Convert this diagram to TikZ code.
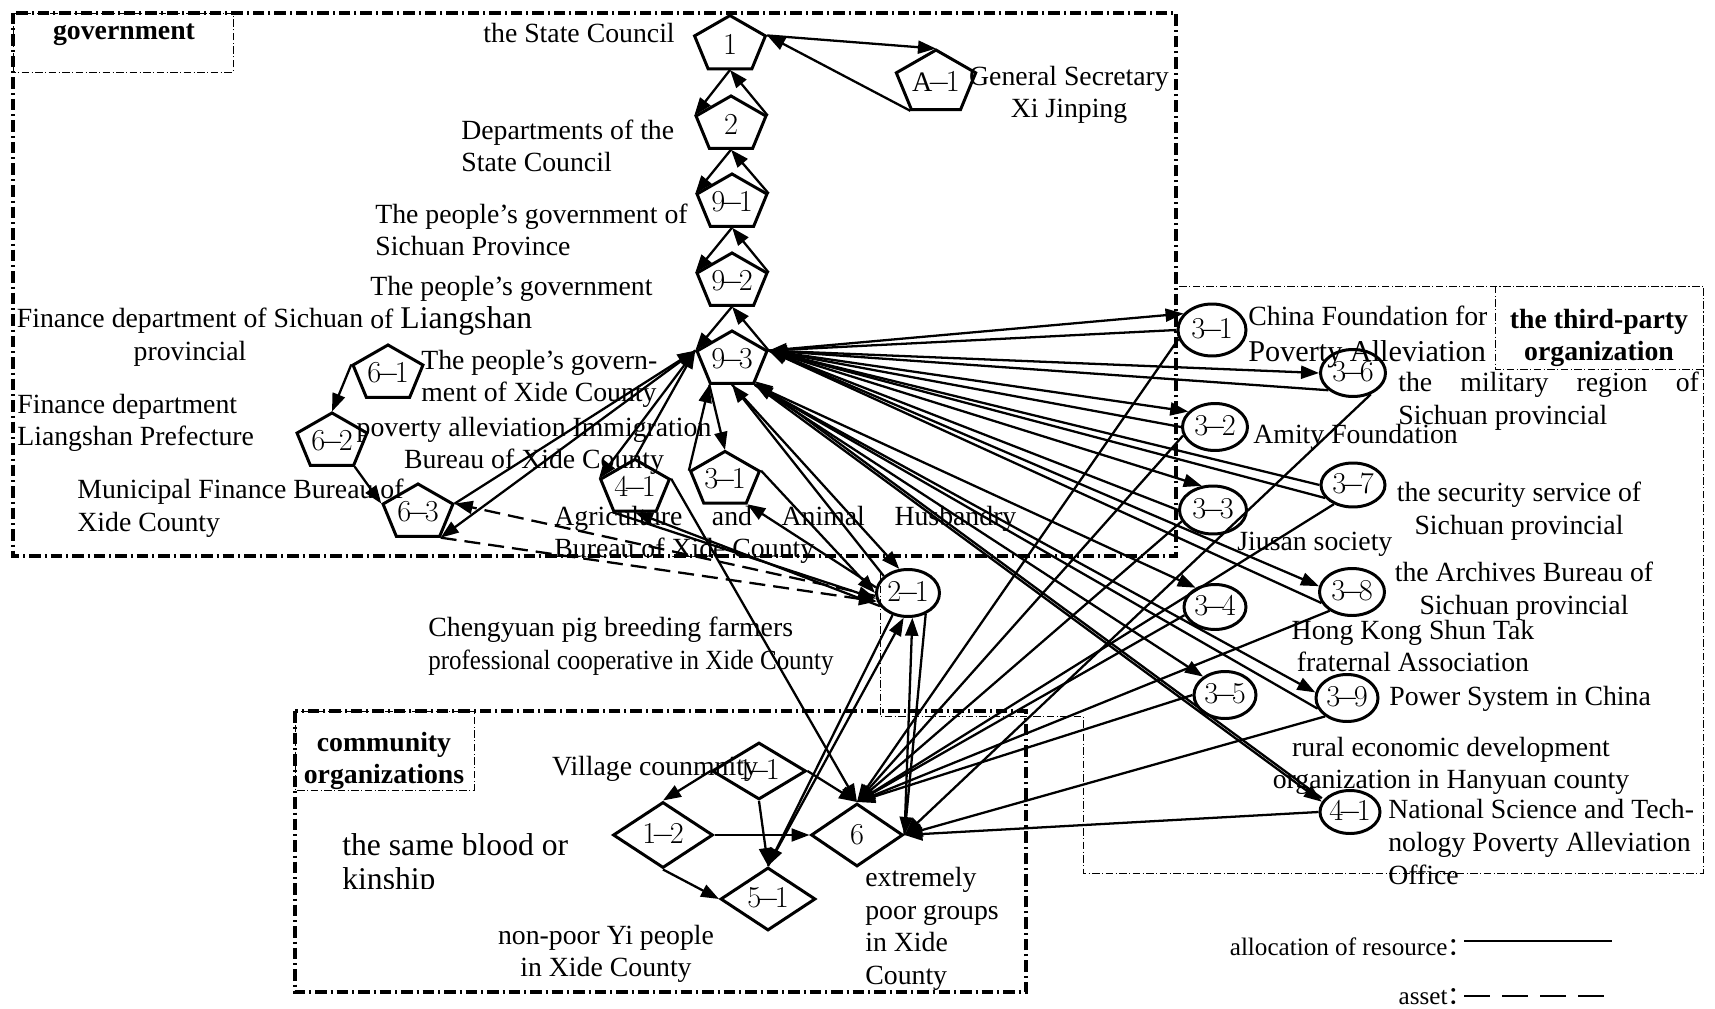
\documentclass[tikz,border=0pt]{standalone}
\usepackage{fontspec}
\setmainfont{Liberation Serif}
\newfontfamily\cjk{Noto Sans CJK SC}
\usepackage{graphicx}
\usetikzlibrary{shapes.geometric,arrows.meta}

\newcommand\mi{\!{-}\!}
\newcommand\nid[1]{{\fontsize{16}{16}\selectfont$#1$}}
\newcommand\pid[1]{\scalebox{1}[1.27]{\nid{#1}}}

\begin{document}
\begin{tikzpicture}[x=0.2mm,y=-0.2mm,
    every node/.style={inner sep=0pt,font=\fontsize{15.8}{18.6}\selectfont},
    head/.style={font=\fontsize{15.8}{18.6}\selectfont\bfseries,align=center},
    pent/.style={draw,line width=1.7pt,regular polygon,regular polygon sides=5,minimum size=14.7mm,yscale=0.79},
    oval/.style={draw,line width=1.7pt,ellipse,minimum width=13mm,minimum height=9.4mm},
    rhomb/.style={draw,line width=1.7pt,diamond,aspect=1.6,minimum width=19mm,minimum height=12.8mm},
    flow/.style={line width=1.3pt,-{Triangle[length=3.6mm,width=2.6mm]}},
    asset/.style={flow,dash pattern=on 3.2mm off 1.6mm},
    outer/.style={line width=1.8pt,dash pattern=on 2.3mm off 0.8mm on 0.4mm off 0.8mm},
    inner/.style={line width=0.5pt,dash pattern=on 1.5mm off 0.5mm on 0.2mm off 0.5mm},
    key/.style={anchor=east,font=\fontsize{14.3}{17}\selectfont}]
\useasboundingbox (0,0) rectangle (1715,1009);

\draw[outer] (13,13) rectangle (1176,556);
\draw[inner] (13,13) rectangle (233,72);
\draw[outer] (295,711) rectangle (1026,992);
\draw[inner] (295,711) rectangle (474,790);
\draw[inner] (880,572) -- (880,716) -- (1083,716) -- (1083,873) -- (1703,873) -- (1703,286) -- (1177,286);
\draw[inner] (1495,286) rectangle (1703,369);

\node[head] (hGov) at (124,35) {government};
\node[head] (hThird) at (1599,338) {the third-party\\organization};
\node[head] (hComm) at (384,761) {community\\organizations};

\node[pent,minimum size=14.9mm] (n1) at (730,45) {\pid{1}};
\node[pent,minimum size=13.5mm] (nA1) at (936,83) {\pid{\mathrm{A}\mi1}};
\node[pent] (n2) at (731,125) {\pid{2}};
\node[pent] (n91) at (732,203) {\pid{9\mi1}};
\node[pent] (n92) at (732,282) {\pid{9\mi2}};
\node[pent] (n93) at (732,360) {\pid{9\mi3}};
\node[pent] (n61) at (388,374) {\pid{6\mi1}};
\node[pent] (n62) at (332,442) {\pid{6\mi2}};
\node[pent] (n63) at (418,513) {\pid{6\mi3}};
\node[pent,minimum size=12.6mm] (n41) at (635,488) {\pid{4\mi1}};
\node[pent,minimum size=13.7mm] (n31) at (725,480) {\pid{3\mi1}};

\node[oval,minimum width=12.6mm] (n21) at (908,593) {\nid{2\mi1}};
\node[oval,minimum width=13.6mm,minimum height=10.4mm] (t31) at (1212,330) {\nid{3\mi1}};
\node[oval] (t36) at (1353,373) {\nid{3\mi6}};
\node[oval] (t32) at (1215,427) {\nid{3\mi2}};
\node[oval,minimum width=12.8mm,minimum height=8.8mm] (t37) at (1353,485) {\nid{3\mi7}};
\node[oval,minimum width=13.4mm,minimum height=9.6mm] (t33) at (1213,510) {\nid{3\mi3}};
\node[oval] (t38) at (1352,592) {\nid{3\mi8}};
\node[oval,minimum width=12.4mm,minimum height=9mm] (t34) at (1215,607) {\nid{3\mi4}};
\node[oval,minimum width=12.4mm] (t35) at (1225,695) {\nid{3\mi5}};
\node[oval,minimum width=12.4mm] (t39) at (1347,698) {\nid{3\mi9}};
\node[oval,minimum width=12mm,minimum height=8.6mm] (t41) at (1350,812) {\nid{4\mi1}};

\node[rhomb,minimum width=18.8mm,minimum height=11.4mm] (c11) at (759,771) {\nid{1\mi1}};
\node[rhomb,minimum width=20mm,minimum height=13.2mm] (c12) at (663,835) {\nid{1\mi2}};
\node[rhomb,minimum width=18.4mm,minimum height=12.6mm] (c6) at (857,835) {\nid{6}};
\node[rhomb,minimum height=12.6mm] (c51) at (768,899) {\nid{5\mi1}};

\node[anchor=east] (lCouncil) at (675,33) {the State Council};
\node[align=center] (lXi) at (1069,95) {General Secretary\\Xi Jinping};
\node[anchor=west,align=left] (lDept) at (461,146) {Departments of the\\State Council};
\node[anchor=west,align=left] (lSichuan) at (375,230) {The people’s government of\\Sichuan Province};
\node[anchor=west,align=left] (lLiang) at (370,306) {The people’s government\\of {\fontsize{18}{18}\selectfont Liangshan}};
\node[align=center] (lFinSc) at (190,337) {Finance department of Sichuan\\provincial};
\node[anchor=west,align=left] (lXide) at (421,379) {The people’s govern-\\ment of Xide County};
\node[align=center] (lImm) at (534,446) {poverty alleviation Immigration\\Bureau of Xide County};
\node[anchor=west,align=left] (lFinLs) at (17,423) {Finance department\\Liangshan Prefecture};
\node[anchor=west,align=left] (lFinXd) at (77,508) {Municipal Finance Bureau of\\Xide County};
\node[anchor=west,align=left] (lAgri) at (554,535) {\makebox[92.4mm][s]{Agriculture and Animal Husbandry}\\Bureau of Xide County};

\node[anchor=west,align=left] (lCfpa) at (1248,337) {China Foundation for\\[2pt]{\fontsize{17.2}{19}\selectfont Poverty Alleviation}};
\node[anchor=west,align=left] (lMil) at (1398,401) {\makebox[60.1mm][s]{the military region of}\\Sichuan provincial};
\node[anchor=west] (lAmity) at (1253,437) {Amity Foundation};
\node[align=center] (lSec) at (1519,511) {the security service of\\Sichuan provincial};
\node[anchor=west] (lJiusan) at (1237,544) {Jiusan society};
\node[align=center] (lArch) at (1524,591) {the Archives Bureau of\\Sichuan provincial};
\node[align=center] (lHk) at (1413,646) {Hong Kong Shun Tak\\fraternal Association};
\node[anchor=west] (lPower) at (1389,699) {Power System in China};
\node[align=center] (lRural) at (1451,766) {rural economic development\\organization in Hanyuan county};
\node[anchor=west,align=left] (lNst) at (1388,842) {National Science and Tech-\\nology Poverty Alleviation\\Office};

\node[anchor=west,align=left] (lPig) at (428,646) {Chengyuan pig breeding farmers\\\scalebox{0.9}[1]{professional cooperative in Xide County}};
\node (lVillage) at (655,769) {Village counmnity};
\begin{scope}
  \clip (300,800) rectangle (640,888);
  \node[anchor=west,align=left,font=\fontsize{18}{19}\selectfont] (lBlood) at (342,865) {the same blood or\\kinship};
\end{scope}
\node[align=center] (lNonpoor) at (606,954) {non-poor Yi people\\in Xide County};
\node[anchor=west,align=left] (lPoor) at (865,929) {extremely\\poor groups\\in Xide\\County};

\node[key] (kAlloc) at (1473,947) {allocation of resource{\cjk ：}};
\node[key] (kAsset) at (1473,997) {asset{\cjk ：}};
\draw[line width=1.3pt] (1464,941) -- (1612,941);
\draw[line width=1.3pt,dash pattern=on 5.2mm off 2.4mm] (1464,996) -- (1612,996);

\draw[flow] (n1.side 3) -- (n2.corner 2);
\draw[flow] (n2.corner 5) -- (n1.side 3);
\draw[flow] (n2.side 3) -- (n91.corner 2);
\draw[flow] (n91.corner 5) -- (n2.side 3);
\draw[flow] (n91.side 3) -- (n92.corner 2);
\draw[flow] (n92.corner 5) -- (n91.side 3);
\draw[flow] (n92.side 3) -- (n93.corner 2);
\draw[flow] (n93.corner 5) -- (n92.side 3);
\draw[flow] (n1.corner 5) -- (nA1.corner 1);
\draw[flow] (nA1.corner 3) -- (n1.corner 5);

\draw[flow] (n61.corner 2) -- (n62.corner 1);
\draw[flow] (n62.corner 4) -- (n63.corner 2);
\draw[flow] (n63.corner 5) -- (n93.corner 2);
\draw[flow] (n93.corner 2) -- (n63.corner 4);
\draw[flow] (n41.corner 1) -- (n93.corner 2);
\draw[flow] (n93.corner 2) -- (n41.corner 2);
\draw[flow] (n31.corner 2) -- (n93.corner 3);
\draw[flow] (n93.corner 3) -- (n31.corner 1);

\draw[flow] (n93.side 3) -- (n21.110);
\draw[flow] (n21.145) -- (n93.side 3);
\draw[flow] (n31.corner 5) -- (n21.west);
\draw[flow] (n21.170) -- (n31.corner 4);
\draw[flow] (n41.corner 3) -- (n21.190);
\draw[flow] (n21.205) -- (n41.side 3);
\draw[flow] (n41.corner 5) -- (c6.north);
\draw[asset] (n21.185) -- (n63.corner 5);
\draw[asset] (n63.corner 4) -- (n21.195);
\draw[flow] (n21.235) -- (c51.north);
\draw[flow] (c51.north) -- (n21.260);
\draw[flow] (c6.east) -- (n21.280);
\draw[flow] (n21.310) -- (c6.east);

\draw[flow] (c11.west) -- (c12.north);
\draw[flow] (c11.south) -- (c51.north);
\draw[flow] (c11.east) -- (c6.north);
\draw[flow] (c12.east) -- (c6.west);
\draw[flow] (c12.south) -- (c51.west);

\draw[flow] (n93.corner 5) -- (t31.150);
\draw[flow] (t31.west) -- (n93.corner 5);
\draw[flow] (t31.195) -- (c6.north);
\draw[flow] (n93.corner 5) -- (t36.west);
\draw[flow] (t36.215) -- (n93.corner 5);
\draw[flow] (t36.310) -- (c6.east);
\draw[flow] (n93.corner 5) -- (t32.150);
\draw[flow] (t32.west) -- (n93.corner 5);
\draw[flow] (t32.195) -- (c6.north);
\draw[flow] (t37.west) -- (n93.corner 5);
\draw[flow] (t37.205) -- (n93.corner 5);
\draw[flow] (t37.225) -- (c6.north);
\draw[flow] (n93.corner 5) -- (t33.115);
\draw[flow] (t33.west) -- (n93.corner 5);
\draw[flow] (t33.200) -- (c6.north);
\draw[flow] (n93.corner 5) -- (t38.170);
\draw[flow] (t38.200) -- (n93.corner 5);
\draw[flow] (t38.220) -- (c6.north);
\draw[flow] (n93.corner 4) -- (t34.135);
\draw[flow] (t34.195) -- (c6.north);
\draw[flow] (n93.corner 4) -- (t35.140);
\draw[flow] (t35.west) -- (c6.north);
\draw[flow] (n93.corner 4) -- (t39.170);
\draw[flow] (t39.200) -- (n93.corner 4);
\draw[flow] (t39.220) -- (c6.east);
\draw[flow] (n93.corner 4) -- (t41.160);
\draw[flow] ([yshift=0.7mm]t41.160) -- ([yshift=0.7mm]n93.corner 4);
\draw[flow] (t41.west) -- (c6.east);
\end{tikzpicture}
\end{document}
